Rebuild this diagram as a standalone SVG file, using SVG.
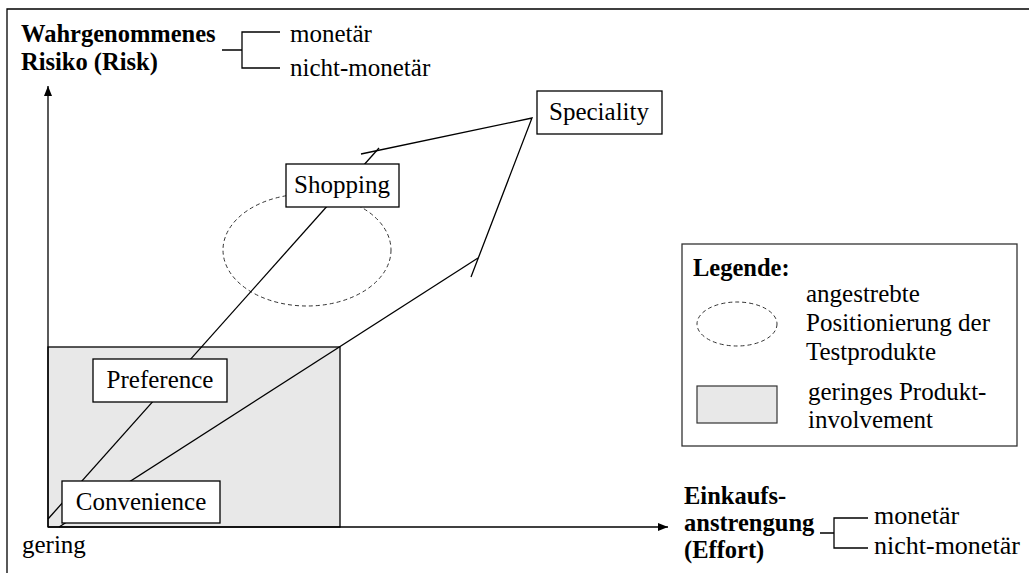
<svg xmlns="http://www.w3.org/2000/svg" width="1029" height="573" viewBox="0 0 1029 573">
<style>
text{font-family:'Liberation Serif','Times New Roman',Tinos,'DejaVu Serif',serif;font-size:25px;fill:#000}
.b{font-weight:bold;font-size:24.5px}
.xd{font-size:26px}
.box{fill:#fff;stroke:#000;stroke-width:1.3}
.ln{fill:none;stroke:#000;stroke-width:1.3}
.dash{fill:none;stroke:#333;stroke-width:1;stroke-dasharray:4 3}
</style>
<defs>
<marker id="ah" viewBox="0 0 10 10" refX="10" refY="5" markerWidth="10" markerHeight="10" markerUnits="userSpaceOnUse" orient="auto"><path d="M0,1 L10,5 L0,9 Z" fill="#000"/></marker>
</defs>
<rect width="1029" height="573" fill="#fff"/>
<path class="ln" d="M7,573 V9 H1029" stroke-width="1.5"/>
<g id="low-involvement-area"><rect x="48" y="347" width="292" height="180" fill="#e8e8e8" stroke="#000" stroke-width="1.3"/></g>
<g id="target-ellipse"><ellipse class="dash" cx="307" cy="250" rx="84" ry="56"/></g>
<g id="connectors">
<line class="ln" x1="48" y1="527" x2="48" y2="86" marker-end="url(#ah)"/>
<line class="ln" x1="48" y1="527" x2="668" y2="527" marker-end="url(#ah)"/>
<line class="ln" x1="48" y1="519" x2="379" y2="148"/>
<line class="ln" x1="59" y1="527" x2="478" y2="258"/>
<polyline class="ln" points="361,154 532,118 471,277"/>
<path class="ln" d="M222,50 H242 M280,32 H242 V68 H280"/>
<path class="ln" d="M820,533 H834 M868,518 H834 V548 H868"/>
</g>
<g id="y-axis-label"><text class="b" x="21" y="42">Wahrgenommenes</text><text class="b" x="21" y="70">Risiko (Risk)</text></g>
<g id="y-dims"><text x="290" y="42">monetär</text><text x="290" y="76">nicht-monetär</text></g>
<g id="x-axis-label"><text class="b" x="684" y="504">Einkaufs-</text><text class="b" x="684" y="531">anstrengung</text><text class="b" x="684" y="558">(Effort)</text></g>
<g id="x-dims"><text class="xd" x="874" y="524">monetär</text><text class="xd" x="874" y="554">nicht-monetär</text></g>
<text x="22" y="553">gering</text>
<g id="convenience"><rect class="box" x="62" y="481" width="158" height="42"/><text x="141" y="510" text-anchor="middle">Convenience</text></g>
<g id="preference"><rect class="box" x="93" y="359" width="134" height="43"/><text x="160" y="388" text-anchor="middle">Preference</text></g>
<g id="shopping"><rect class="box" x="286" y="164" width="113" height="43"/><text x="342" y="193" text-anchor="middle">Shopping</text></g>
<g id="speciality"><rect class="box" x="537" y="91" width="125" height="43"/><text x="599" y="120" text-anchor="middle">Speciality</text></g>
<g id="legend">
<rect x="682" y="244" width="335" height="202" fill="#fff" stroke="#333" stroke-width="1.3"/>
<text class="b" x="693" y="276">Legende:</text>
<ellipse class="dash" cx="737" cy="324" rx="40" ry="22"/>
<text x="806" y="302">angestrebte</text>
<text x="806" y="331">Positionierung der</text>
<text x="806" y="360">Testprodukte</text>
<rect x="697" y="386" width="80" height="37" fill="#e8e8e8" stroke="#333" stroke-width="1.2"/>
<text x="808" y="400">geringes Produkt-</text>
<text x="808" y="428">involvement</text>
</g>
</svg>
